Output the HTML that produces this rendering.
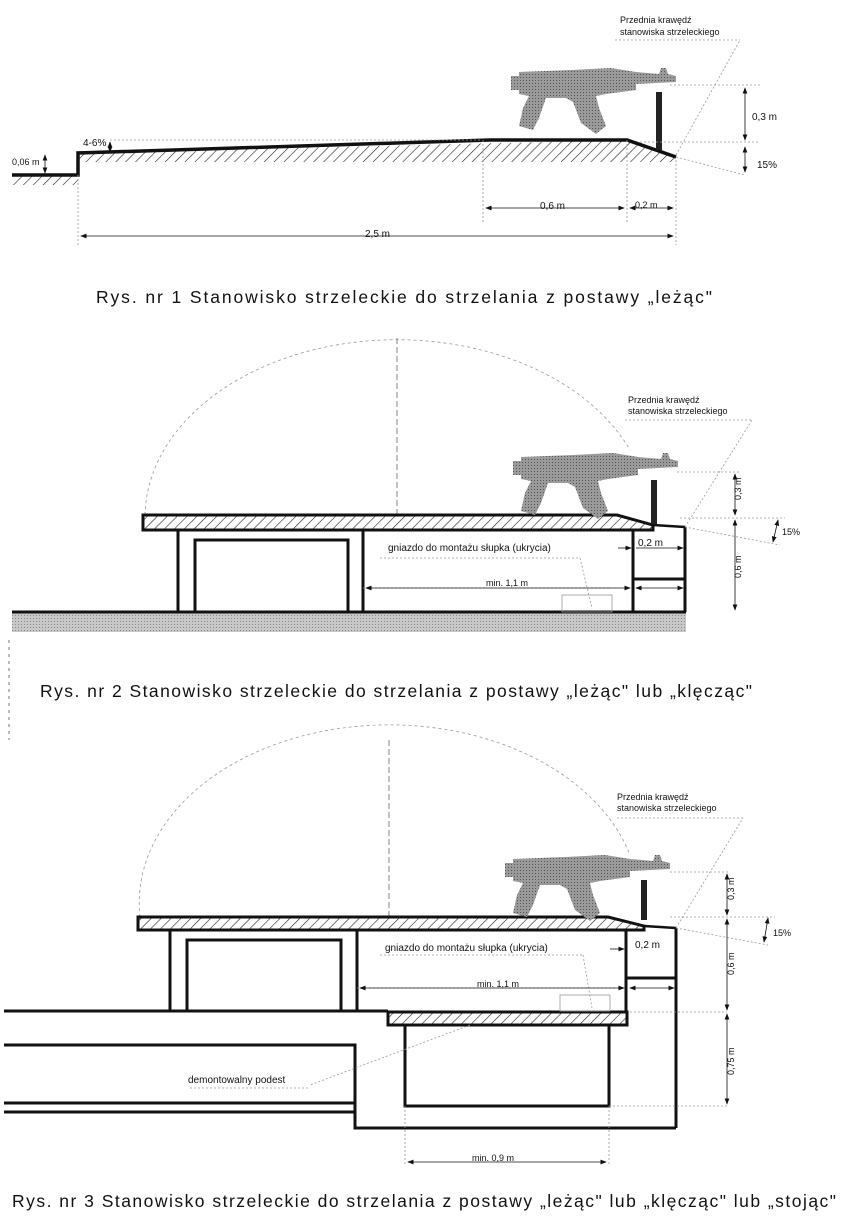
<!DOCTYPE html>
<html><head><meta charset="utf-8"><style>
html,body{margin:0;padding:0;background:#fff;}
svg{display:block;}
text{font-family:"Liberation Sans",sans-serif;fill:#111;}
</style></head><body>
<svg width="848" height="1225" viewBox="0 0 848 1225" xmlns="http://www.w3.org/2000/svg">
<defs>
<pattern id="h" width="7" height="7" patternUnits="userSpaceOnUse" patternTransform="rotate(45)">
<line x1="0" y1="0" x2="0" y2="7" stroke="#222" stroke-width="1.2"/></pattern>
<pattern id="g" width="3" height="3" patternUnits="userSpaceOnUse">
<rect width="3" height="3" fill="#c8c8c8"/><rect width="1" height="1" fill="#888"/></pattern>
<pattern id="gp" width="3" height="3" patternUnits="userSpaceOnUse">
<rect width="3" height="3" fill="#9a9a9a"/><rect width="1" height="1" fill="#555"/></pattern>
<g id="gun">
<path d="M0,8 L8,8 L8,4 L60,2 L100,0 L125,4 L148,6 L150,0 L155,0 L157,6 L165,8 L165,14 L125,16 L125,22 L95,26 L85,28 L88,40 L95,58 L85,66 L70,55 L62,34 L55,30 L35,30 L28,50 L22,62 L8,58 L12,40 L18,28 L8,26 L8,22 L0,22 Z" fill="url(#gp)"/>
</g>
<marker id="a" markerWidth="8" markerHeight="6" refX="7" refY="3" orient="auto"><path d="M0,0 L8,3 L0,6Z" fill="#111"/></marker>
<marker id="b" markerWidth="8" markerHeight="6" refX="1" refY="3" orient="auto"><path d="M8,0 L0,3 L8,6Z" fill="#111"/></marker>
</defs>

<!-- FIG 1 -->
<polygon points="78,153 627,140 676,157 676,162 78,162" fill="url(#h)"/>
<rect x="12" y="175" width="66" height="10" fill="url(#h)"/>
<path d="M12,175 L78,175 L78,153 L490,140 L627,140 L676,157" fill="none" stroke="#111" stroke-width="3.5"/>
<rect x="656" y="92" width="6" height="58" fill="#222"/>
<use href="#gun" transform="translate(511,68)"/>
<g stroke="#999" stroke-width="0.8" stroke-dasharray="2,2" fill="none">
<line x1="110" y1="140" x2="480" y2="140"/><line x1="670" y1="85" x2="760" y2="85"/><line x1="640" y1="142" x2="760" y2="142"/>
<line x1="676" y1="157" x2="745" y2="175"/><line x1="483" y1="140" x2="483" y2="222"/><line x1="627" y1="140" x2="627" y2="222"/>
<line x1="676" y1="160" x2="676" y2="245"/><line x1="78" y1="175" x2="78" y2="245"/>
<line x1="676" y1="155" x2="740" y2="40"/><line x1="615" y1="40" x2="740" y2="40"/>
</g>
<g stroke="#111" stroke-width="0.8" fill="none">
<line x1="486" y1="208" x2="624" y2="208" marker-start="url(#b)" marker-end="url(#a)"/>
<line x1="630" y1="208" x2="673" y2="208" marker-start="url(#b)" marker-end="url(#a)"/>
<line x1="81" y1="236" x2="673" y2="236" marker-start="url(#b)" marker-end="url(#a)"/>
<line x1="745" y1="88" x2="745" y2="140" marker-start="url(#b)" marker-end="url(#a)"/>
<line x1="745" y1="147" x2="745" y2="172" marker-start="url(#b)" marker-end="url(#a)"/>
<line x1="45" y1="155" x2="45" y2="173" marker-start="url(#b)" marker-end="url(#a)"/>
<line x1="110" y1="142" x2="110" y2="152" marker-start="url(#b)" marker-end="url(#a)"/>
</g>
<text x="12" y="165" font-size="9">0,06 m</text>
<text x="83" y="146" font-size="10">4-6%</text>
<text x="540" y="209" font-size="10">0,6 m</text>
<text x="635" y="208" font-size="9">0,2 m</text>
<text x="365" y="237" font-size="10">2,5 m</text>
<text x="752" y="120" font-size="10">0,3 m</text>
<text x="757" y="168" font-size="10">15%</text>
<text x="620" y="23" font-size="9">Przednia krawędź</text>
<text x="620" y="35" font-size="9">stanowiska strzeleckiego</text>
<text x="96" y="303" font-size="17.5" textLength="616" lengthAdjust="spacing">Rys. nr 1  Stanowisko strzeleckie do strzelania z postawy „leżąc"</text>

<!-- FIG 2 -->
<path d="M145,515 A252,178 0 0 1 630,450" fill="none" stroke="#999" stroke-width="0.8" stroke-dasharray="3,3"/>
<line x1="397" y1="338" x2="397" y2="515" stroke="#666" stroke-width="0.8" stroke-dasharray="6,3"/>
<rect x="12" y="612" width="674" height="20" fill="url(#g)"/>
<path d="M143,515 L617,515 L653,525 L653,530 L143,530Z" fill="url(#h)" stroke="#111" stroke-width="3"/>
<path d="M653,525 L685,527" stroke="#111" stroke-width="2.5"/>
<g fill="none" stroke="#111" stroke-width="3">
<path d="M178,612 L178,530 M363,530 L363,612 M195,612 L195,540 L348,540 L348,612"/>
<line x1="12" y1="612" x2="686" y2="612"/>
<line x1="633" y1="530" x2="633" y2="612"/><line x1="685" y1="527" x2="685" y2="612"/>
<line x1="633" y1="579" x2="685" y2="579"/>
</g>
<rect x="651" y="480" width="6" height="44" fill="#222"/>
<use href="#gun" transform="translate(513,453)"/>
<g stroke="#999" stroke-width="0.8" stroke-dasharray="2,2" fill="none">
<line x1="677" y1="472" x2="740" y2="472"/><line x1="680" y1="518" x2="785" y2="518"/><line x1="685" y1="527" x2="780" y2="545"/>
<line x1="685" y1="527" x2="752" y2="420"/><line x1="625" y1="420" x2="752" y2="420"/>
<line x1="380" y1="558" x2="580" y2="558"/>
<line x1="580" y1="558" x2="592" y2="608"/><line x1="363" y1="588" x2="610" y2="588"/>
</g>
<rect x="562" y="595" width="50" height="17" fill="none" stroke="#999" stroke-width="0.8"/>
<g stroke="#111" stroke-width="0.8" fill="none">
<line x1="735" y1="474" x2="735" y2="515" marker-start="url(#b)" marker-end="url(#a)"/>
<line x1="735" y1="520" x2="735" y2="610" marker-start="url(#b)" marker-end="url(#a)"/>
<line x1="778" y1="520" x2="773" y2="542" marker-start="url(#b)" marker-end="url(#a)"/>
<line x1="618" y1="548" x2="631" y2="548" marker-end="url(#a)"/>
<line x1="636" y1="548" x2="683" y2="548" marker-end="url(#a)"/>
<line x1="366" y1="588" x2="630" y2="588" marker-start="url(#b)" marker-end="url(#a)"/>
<line x1="636" y1="588" x2="683" y2="588" marker-start="url(#b)" marker-end="url(#a)"/>
</g>
<text x="388" y="551" font-size="10">gniazdo do montażu słupka (ukrycia)</text>
<text x="486" y="586" font-size="9">min. 1,1 m</text>
<text x="638" y="546" font-size="10">0,2 m</text>
<text x="741" y="500" font-size="9" transform="rotate(-90 741 500)">0,3 m</text>
<text x="741" y="578" font-size="9" transform="rotate(-90 741 578)">0,6 m</text>
<text x="782" y="535" font-size="9">15%</text>
<text x="628" y="403" font-size="9">Przednia krawędź</text>
<text x="628" y="414" font-size="9">stanowiska strzeleckiego</text>
<text x="40" y="697" font-size="17.5" textLength="712" lengthAdjust="spacing">Rys. nr 2  Stanowisko strzeleckie do strzelania z postawy „leżąc" lub „klęcząc"</text>
<line x1="9" y1="640" x2="9" y2="740" stroke="#777" stroke-width="1" stroke-dasharray="3,4"/>

<!-- FIG 3 -->
<path d="M140,917 A250,178 0 0 1 630,855" fill="none" stroke="#999" stroke-width="0.8" stroke-dasharray="3,3"/>
<line x1="389" y1="740" x2="389" y2="917" stroke="#666" stroke-width="0.8" stroke-dasharray="6,3"/>
<path d="M138,917 L608,917 L644,926 L644,930 L138,930Z" fill="url(#h)" stroke="#111" stroke-width="3"/>
<path d="M644,926 L676,928" stroke="#111" stroke-width="2.5"/>
<rect x="388" y="1012" width="239" height="13" fill="url(#h)" stroke="#111" stroke-width="3"/>
<g fill="none" stroke="#111" stroke-width="3">
<path d="M170,1011 L170,930 M357,930 L357,1011 M187,1011 L187,940 L341,940 L341,1011"/>
<line x1="4" y1="1011" x2="388" y2="1011"/>
<line x1="626" y1="930" x2="626" y2="1012"/><line x1="676" y1="928" x2="676" y2="1128"/>
<line x1="626" y1="978" x2="676" y2="978"/>
<path d="M405,1025 L405,1106 L609,1106 L609,1025"/>
<path d="M4,1045 L355,1045 L355,1128 L676,1128"/>
<line x1="4" y1="1103" x2="355" y2="1103"/><line x1="4" y1="1112" x2="355" y2="1112"/>
</g>
<rect x="641" y="880" width="6" height="40" fill="#222"/>
<use href="#gun" transform="translate(505,855)"/>
<g stroke="#999" stroke-width="0.8" stroke-dasharray="2,2" fill="none">
<line x1="670" y1="872" x2="730" y2="872"/><line x1="670" y1="917" x2="775" y2="917"/><line x1="676" y1="928" x2="768" y2="945"/>
<line x1="676" y1="928" x2="743" y2="818"/><line x1="617" y1="818" x2="743" y2="818"/>
<line x1="380" y1="955" x2="583" y2="955"/><line x1="583" y1="955" x2="592" y2="1008"/>
<line x1="357" y1="988" x2="620" y2="988"/><line x1="630" y1="1012" x2="727" y2="1012"/>
<line x1="609" y1="1106" x2="727" y2="1106"/><line x1="470" y1="1025" x2="310" y2="1085"/>
<line x1="190" y1="1088" x2="310" y2="1088"/>
<line x1="405" y1="1106" x2="405" y2="1165"/><line x1="609" y1="1106" x2="609" y2="1165"/>
</g>
<rect x="560" y="995" width="50" height="16" fill="none" stroke="#999" stroke-width="0.8"/>
<g stroke="#111" stroke-width="0.8" fill="none">
<line x1="727" y1="874" x2="727" y2="915" marker-start="url(#b)" marker-end="url(#a)"/>
<line x1="727" y1="919" x2="727" y2="1010" marker-start="url(#b)" marker-end="url(#a)"/>
<line x1="727" y1="1014" x2="727" y2="1104" marker-start="url(#b)" marker-end="url(#a)"/>
<line x1="768" y1="918" x2="764" y2="942" marker-start="url(#b)" marker-end="url(#a)"/>
<line x1="610" y1="949" x2="624" y2="949" marker-end="url(#a)"/>
<line x1="360" y1="988" x2="624" y2="988" marker-start="url(#b)" marker-end="url(#a)"/>
<line x1="630" y1="988" x2="674" y2="988" marker-start="url(#b)" marker-end="url(#a)"/>
<line x1="408" y1="1162" x2="606" y2="1162" marker-start="url(#b)" marker-end="url(#a)"/>
</g>
<text x="385" y="951" font-size="10">gniazdo do montażu słupka (ukrycia)</text>
<text x="477" y="987" font-size="9">min. 1,1 m</text>
<text x="635" y="948" font-size="10">0,2 m</text>
<text x="188" y="1083" font-size="10">demontowalny podest</text>
<text x="472" y="1161" font-size="9">min. 0,9 m</text>
<text x="734" y="900" font-size="9" transform="rotate(-90 734 900)">0,3 m</text>
<text x="734" y="975" font-size="9" transform="rotate(-90 734 975)">0,6 m</text>
<text x="734" y="1075" font-size="9" transform="rotate(-90 734 1075)">0,75 m</text>
<text x="773" y="936" font-size="9">15%</text>
<text x="617" y="800" font-size="9">Przednia krawędź</text>
<text x="617" y="811" font-size="9">stanowiska strzeleckiego</text>
<text x="12" y="1207" font-size="17.5" textLength="824" lengthAdjust="spacing">Rys. nr 3  Stanowisko strzeleckie do strzelania z postawy „leżąc" lub „klęcząc" lub „stojąc"</text>
</svg>
</body></html>
